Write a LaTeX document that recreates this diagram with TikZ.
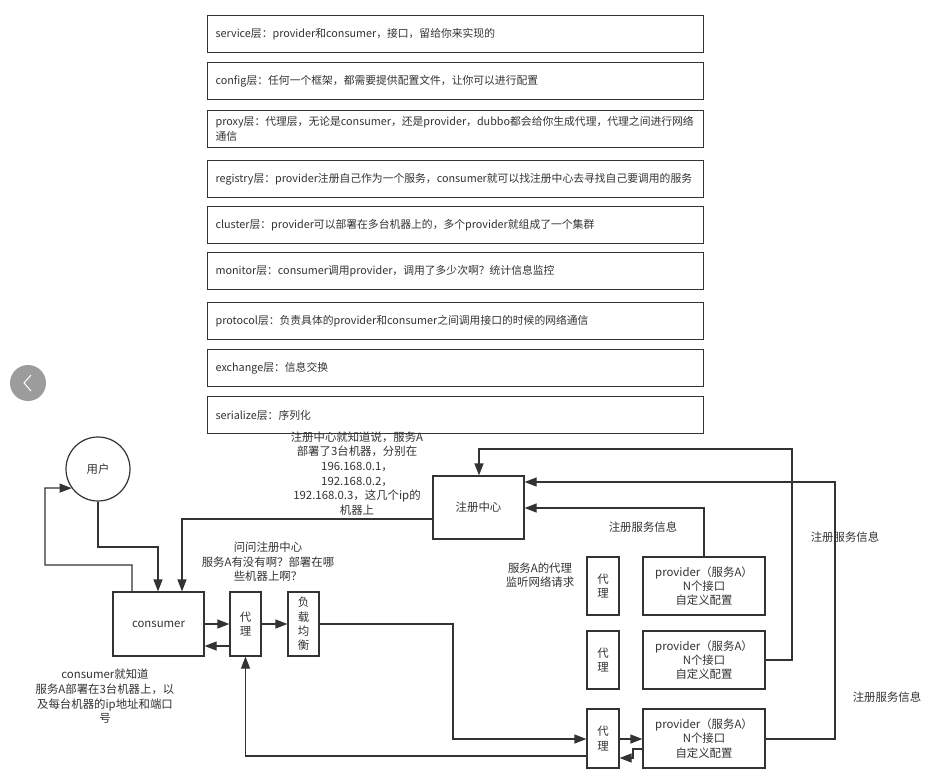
\documentclass[tikz,border=0pt]{standalone}
\usepackage{fontspec}
\setmainfont{Noto Sans CJK SC}
\usetikzlibrary{arrows.meta,calc}
\definecolor{ink}{HTML}{333333}
\definecolor{btn}{HTML}{9C9C9C}
\begin{document}
\begin{tikzpicture}[x=1pt,y=-1pt,
  layer/.style={draw=ink, line width=1.2pt, text=ink, minimum height=37pt, text width=480pt, inner xsep=8pt, align=left, anchor=north west, font=\fontsize{10.8}{14.6}\selectfont},
  box/.style={draw=ink, line width=1.2pt, text=ink, align=center, inner sep=0pt, font=\fontsize{11.4}{14.4}\selectfont},
  txt/.style={text=ink, align=center, inner sep=0pt, font=\fontsize{11.4}{14.6}\selectfont},
  ln/.style={draw=ink, line width=1.2pt},
  arr/.style={draw=ink, line width=1.2pt, -{Triangle[length=12pt,width=9pt]}}]
\useasboundingbox[fill=white] (0,0) rectangle (948,780);

% layers
\node[layer] (l1) at (207,15) {service层：provider和consumer，接口，留给你来实现的};
\node[layer] (l2) at (207,62) {config层：任何一个框架，都需要提供配置文件，让你可以进行配置};
\node[layer] (l3) at (207,110) {proxy层：代理层，无论是consumer，还是provider，dubbo都会给你生成代理，代理之间进行网络\\通信};
\node[layer] (l4) at (207,160) {registry层：provider注册自己作为一个服务，consumer就可以找注册中心去寻找自己要调用的服务};
\node[layer] (l5) at (207,206) {cluster层：provider可以部署在多台机器上的，多个provider就组成了一个集群};
\node[layer] (l6) at (207,252) {monitor层：consumer调用provider，调用了多少次啊？统计信息监控};
\node[layer] (l7) at (207,302) {protocol层：负责具体的provider和consumer之间调用接口的时候的网络通信};
\node[layer] (l8) at (207,349) {exchange层：信息交换};
\node[layer] (l9) at (207,396) {serialize层：序列化};

% nav button
\node[circle, fill=btn, minimum size=36pt, inner sep=0pt] (navbtn) at (28,383) {};
\draw[white, line width=1pt] ($(navbtn.center)+(3,-8)$) -- ($(navbtn.center)+(-4,0)$) -- ($(navbtn.center)+(3,8)$);

% diagram nodes
\node[box, circle, minimum size=64pt] (user) at (98,469) {用户};
\node[box, minimum width=91pt, minimum height=64pt] (consumer) at (158.5,624) {consumer};
\node[box, minimum width=31pt, minimum height=64pt] (px1) at (245.5,624) {代\\理};
\node[box, minimum width=31pt, minimum height=64pt] (lb) at (303.5,624) {负\\载\\均\\衡};
\node[box, minimum width=91pt, minimum height=63pt] (reg) at (478.5,507.5) {注册中心};
\node[box, minimum width=32pt, minimum height=58pt] (pxa) at (603,586) {代\\理};
\node[box, minimum width=122pt, minimum height=58pt] (prova) at (704,586) {provider（服务A）\\N个接口\\自定义配置};
\node[box, minimum width=32pt, minimum height=58pt] (pxb) at (603,660) {代\\理};
\node[box, minimum width=122pt, minimum height=58pt] (provb) at (704,660) {provider（服务A）\\N个接口\\自定义配置};
\node[box, minimum width=32pt, minimum height=59pt] (pxc) at (603,738.5) {代\\理};
\node[box, minimum width=122pt, minimum height=59pt] (provc) at (704,738.5) {provider（服务A）\\N个接口\\自定义配置};

% texts
\node[txt] (t1) at (357,473.5) {注册中心就知道说，服务A\\部署了3台机器，分别在\\196.168.0.1，\\192.168.0.2，\\192.168.0.3，这几个ip的\\机器上};
\node[txt] (t2) at (268,562) {问问注册中心\\服务A有没有啊？部署在哪\\些机器上啊？};
\node[txt] (t3) at (105,696.5) {consumer就知道\\服务A部署在3台机器上，以\\及每台机器的ip地址和端口\\号};
\node[txt] (t4) at (540,575) {服务A的代理\\监听网络请求};
\node[txt] (t5) at (643,527) {注册服务信息};
\node[txt] (t6) at (845,537) {注册服务信息};
\node[txt] (t7) at (887,697) {注册服务信息};

% connectors
\draw[arr] (user.south) -- (98,547) -- (158,547) -- (158,0 |- consumer.north);
\draw[arr] (132,0 |- consumer.north) -- (132,565) -- (45,565) -- (45,488) -- (user.216);
\draw[arr] (reg.west |- 0,519) -- (182,519) -- (182,0 |- consumer.north);
\draw[arr] (consumer.east) -- (px1.west);
\draw[arr] (px1.west |- 0,646) -- (consumer.east |- 0,646);
\draw[arr] (px1.east) -- (lb.west);
\draw[arr] (lb.east) -- (453,624) -- (453,739) -- (pxc.west |- 0,739);
\draw[arr] (pxc.east |- 0,739) -- (provc.west |- 0,739);
\draw[arr] (provc.west |- 0,749) -- (633,749) -- (633,758) -- (pxc.east |- 0,758);
\draw[arr] (pxc.west |- 0,756) -- (245.5,756) -- (px1.south);
\draw[arr] (prova.north) -- (704,508) -- (reg.east |- 0,508);
\draw[arr] (provb.east) -- (792,660) -- (792,449) -- (479,449) -- (479,0 |- reg.north);
\draw[arr] (provc.east |- 0,739) -- (835,739) -- (835,482) -- (reg.east |- 0,482);
\end{tikzpicture}
\end{document}
